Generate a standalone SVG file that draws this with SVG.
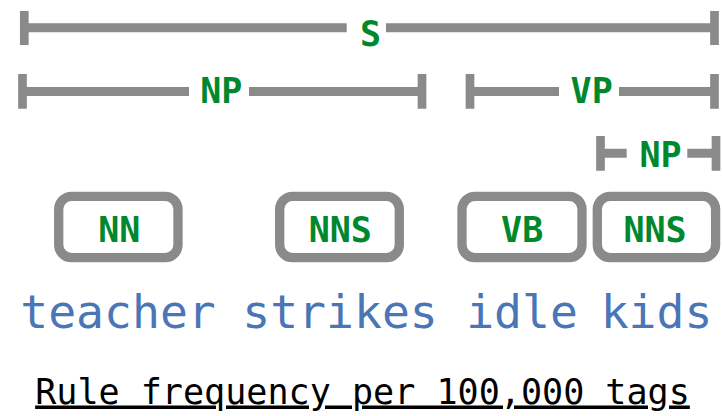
<svg xmlns="http://www.w3.org/2000/svg" width="722" height="416" viewBox="0 0 722 416">
<style>
.bar{stroke:#8a8a8a;stroke-width:9;fill:none;stroke-linecap:butt}
.tick{stroke:#8a8a8a;stroke-width:8.7;fill:none;stroke-linecap:butt}
.box{stroke:#8a8a8a;stroke-width:9.3;fill:#ffffff}
.lab{font-family:"DejaVu Sans Mono",monospace;font-weight:bold;font-size:35px;fill:#00882e;text-anchor:middle}
.word{font-family:"DejaVu Sans Mono",monospace;font-size:46.4px;fill:#4a76b6;text-anchor:middle}
.cap{font-family:"DejaVu Sans Mono",monospace;font-size:35.1px;fill:#000000;text-anchor:middle;text-decoration:underline}
</style>
<rect width="722" height="416" fill="#ffffff"/>
<g id="S">
<path class="bar" d="M24.3 27.8H346.7M386 27.8H714.5"/>
<path class="tick" d="M24.3 11V45M714.5 11V45"/>
<text class="lab" x="370.5" y="45.5">S</text>
</g>
<g id="NP1">
<path class="bar" d="M22.5 91.6H189M249 91.6H422"/>
<path class="tick" d="M22.5 74V108.7M422 74V108.7"/>
<text class="lab" x="221.3" y="103.3">NP</text>
</g>
<g id="VP">
<path class="bar" d="M470 91.6H559M619 91.6H714.5"/>
<path class="tick" d="M470 74V108.7M714.5 74V108.7"/>
<text class="lab" x="591.7" y="103.2">VP</text>
</g>
<g id="NP2">
<path class="bar" d="M600.5 153.3H626.7M687.3 153.3H716"/>
<path class="tick" d="M600.5 136V170.7M716 136V170.7"/>
<text class="lab" x="660.5" y="166.6">NP</text>
</g>
<g id="NN">
<rect class="box" x="58.7" y="196.3" width="119.3" height="61.4" rx="13"/>
<text class="lab" x="119.3" y="241.7">NN</text>
</g>
<g id="NNS1">
<rect class="box" x="279.7" y="196.3" width="119.6" height="61.4" rx="13"/>
<text class="lab" x="340.3" y="241.7">NNS</text>
</g>
<g id="VB">
<rect class="box" x="462" y="196.3" width="120" height="61.4" rx="13"/>
<text class="lab" x="522.2" y="241.7">VB</text>
</g>
<g id="NNS2">
<rect class="box" x="597.3" y="196.3" width="118.3" height="61.4" rx="13"/>
<text class="lab" x="655" y="241.7">NNS</text>
</g>
<g id="words">
<text class="word" x="118" y="327.7">teacher</text>
<text class="word" x="340" y="327.7">strikes</text>
<text class="word" x="522" y="327.7">idle</text>
<text class="word" x="656.5" y="327.7">kids</text>
</g>
<text class="cap" x="362.5" y="403.5">Rule frequency per 100,000 tags</text>
</svg>
